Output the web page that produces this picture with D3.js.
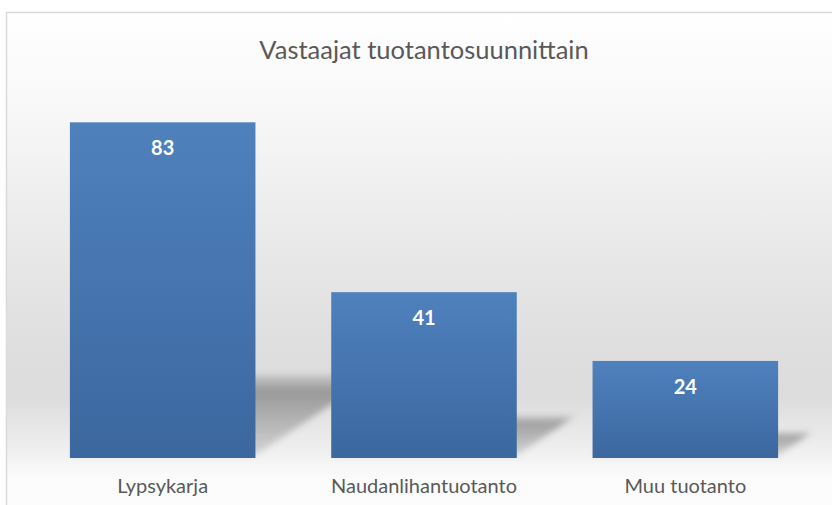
<!DOCTYPE html>
<html>
<head>
<meta charset="utf-8">
<script src="https://cdn.jsdelivr.net/npm/d3@7"></script>
<style>
  body { margin: 0; background: #fff; }
  text { font-family: Lato, "Open Sans", sans-serif; }
</style>
</head>
<body>
<div id="chart"></div>
<script>
const categories = ['Lypsykarja', 'Naudanlihantuotanto', 'Muu tuotanto'];
const values = [83, 41, 24];
const title = 'Vastaajat tuotantosuunnittain';

const width = 832;
const height = 505;
const SHADOW_DEPTH = 0.24;

const svg = d3.select('#chart')
  .append('svg')
  .attr('width', width)
  .attr('height', height);

const defs = svg.append('defs');

const bg = defs.append('linearGradient')
  .attr('id', 'bg')
  .attr('gradientUnits', 'userSpaceOnUse')
  .attr('x1', 0).attr('x2', 0)
  .attr('y1', 13).attr('y2', 480);
[[0, '#ffffff'], [0.2, '#f8f8f8'], [0.72, '#dedede'], [0.82, '#dcdcdc'], [0.93, '#eeeeee'], [1, '#fcfcfc']]
  .forEach(([o, c]) => bg.append('stop').attr('offset', o).attr('stop-color', c));

const barFill = defs.append('linearGradient')
  .attr('id', 'bar')
  .attr('x1', 0).attr('x2', 0)
  .attr('y1', 0).attr('y2', 1);
barFill.append('stop').attr('offset', 0).attr('stop-color', '#4f81bd');
barFill.append('stop').attr('offset', 1).attr('stop-color', '#3c679f');

const shade = defs.append('linearGradient')
  .attr('id', 'shade')
  .attr('x1', 0).attr('x2', 0)
  .attr('y1', 0).attr('y2', 1);
shade.append('stop').attr('offset', 0).attr('stop-color', '#000').attr('stop-opacity', 0.08);
shade.append('stop').attr('offset', 0.2).attr('stop-color', '#000').attr('stop-opacity', 0.3);
shade.append('stop').attr('offset', 1).attr('stop-color', '#000').attr('stop-opacity', 0.12);

defs.append('filter')
  .attr('id', 'blur')
  .attr('x', '-20%').attr('y', '-20%')
  .attr('width', '140%').attr('height', '140%')
  .append('feGaussianBlur')
  .attr('stdDeviation', 3);

// chart area
svg.append('rect')
  .attr('x', 6.5)
  .attr('y', 12.5)
  .attr('width', 900)
  .attr('height', 600)
  .attr('fill', 'url(#bg)')
  .attr('stroke', '#d9d9d9')
  .attr('stroke-width', 1.5);

const x = d3.scaleBand()
  .domain(categories)
  .range([32, 816])
  .paddingInner(0.29)
  .paddingOuter(0.145);

const y = d3.scaleLinear()
  .domain([0, 90])
  .range([458, 94]);

const data = categories.map((name, i) => ({ name, value: values[i] }));

// floor shadows behind the bars
svg.append('g')
  .attr('filter', 'url(#blur)')
  .selectAll('path')
  .data(data)
  .enter()
  .append('path')
    .attr('fill', 'url(#shade)')
    .attr('d', d => {
      const x0 = x(d.name);
      const x1 = x0 + x.bandwidth();
      const base = y(0) - 3;
      const dy = (y(0) - y(d.value)) * SHADOW_DEPTH;
      const dx = dy * 1.5;
      return `M${x0},${base}L${x1},${base}L${x1 + dx},${base - dy}L${x0 + dx},${base - dy}Z`;
    });

svg.append('g')
  .selectAll('rect')
  .data(data)
  .enter()
  .append('rect')
    .attr('x', d => x(d.name))
    .attr('y', d => y(d.value))
    .attr('width', x.bandwidth())
    .attr('height', d => y(0) - y(d.value))
    .attr('fill', 'url(#bar)');

svg.append('g')
  .selectAll('text')
  .data(data)
  .enter()
  .append('text')
    .attr('x', d => x(d.name) + x.bandwidth() / 2)
    .attr('y', d => y(d.value) + 33)
    .attr('text-anchor', 'middle')
    .attr('fill', '#fff')
    .attr('font-size', 20)
    .attr('font-weight', 'bold')
    .text(d => d.value);

const xAxis = d3.axisBottom(x).tickSize(0).tickPadding(21);
const axisG = svg.append('g')
  .attr('transform', `translate(0, ${y(0)})`)
  .call(xAxis);
axisG.select('.domain').remove();
axisG.selectAll('text')
  .attr('fill', '#595959')
  .attr('font-size', 20)
  .style('font-family', 'Lato, "Open Sans", sans-serif');

svg.append('text')
  .attr('x', (x.range()[0] + x.range()[1]) / 2)
  .attr('y', 59)
  .attr('text-anchor', 'middle')
  .attr('fill', '#595959')
  .attr('font-size', 25.5)
  .text(title);
</script>
</body>
</html>
